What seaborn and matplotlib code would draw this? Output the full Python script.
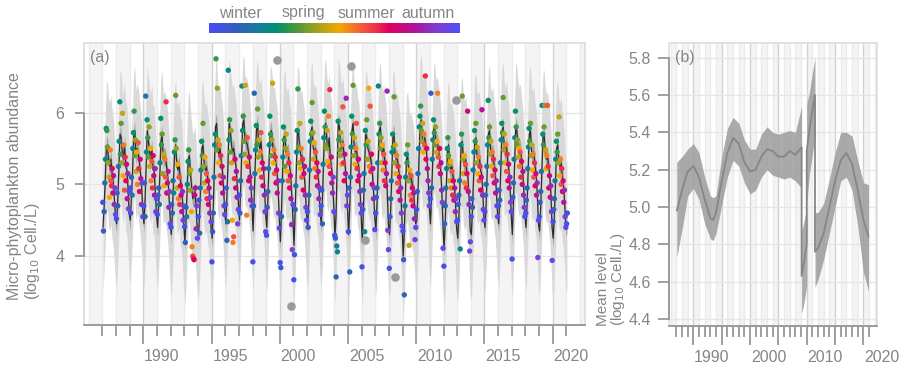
import numpy as np
import pandas as pd
import seaborn as sns
import matplotlib.pyplot as plt
from matplotlib.colors import LinearSegmentedColormap
from matplotlib.patches import Rectangle
from matplotlib.transforms import ScaledTranslation

# ---- data ----
years = list(range(1987, 2022))
# sampling days of year (roughly every 18 days)
sample_days = [10, 28, 46, 64, 82, 100, 118, 136, 154, 172,
               190, 208, 226, 244, 262, 280, 298, 316, 334, 352]

# log10 abundance, one row per year
abundance = [
    [4.75, 4.35, 4.62, 5.02, 5.35, 5.78, 5.75, 5.52, 5.30, 5.10, 4.82, 5.48, 5.05, 4.98, 5.22, 4.88, 5.12, 4.72, 4.95, 4.58],
    [4.52, 4.88, 4.70, 5.25, 5.60, 6.15, 5.42, 5.85, 5.30, 5.99, 5.12, 5.55, 4.92, 5.38, 5.05, 5.28, 4.80, 5.15, 4.66, 4.90],
    [4.95, 4.60, 5.10, 4.85, 5.50, 5.72, 6.02, 5.40, 5.62, 5.18, 5.45, 5.00, 5.58, 5.22, 4.90, 5.35, 5.08, 4.72, 5.02, 4.55],
    [4.70, 5.02, 4.55, 6.23, 5.45, 5.90, 5.65, 5.38, 5.80, 5.25, 5.50, 5.05, 5.32, 4.95, 5.40, 5.12, 4.85, 5.22, 4.62, 4.80],
    [4.58, 4.85, 4.95, 4.72, 5.30, 5.92, 5.55, 5.70, 5.15, 5.42, 4.98, 5.35, 5.10, 6.15, 4.88, 5.02, 5.18, 4.68, 4.90, 4.45],
    [4.40, 4.72, 4.60, 5.05, 4.88, 5.45, 5.62, 6.24, 5.50, 4.95, 5.28, 4.80, 5.10, 4.72, 4.98, 4.85, 4.62, 4.90, 4.50, 4.70],
    [4.41, 4.19, 4.68, 4.55, 5.00, 5.32, 5.48, 5.15, 4.92, 5.20, 4.62, 4.13, 4.00, 3.97, 3.95, 4.85, 4.95, 4.38, 4.70, 4.25],
    [4.55, 4.78, 4.32, 4.95, 5.20, 5.60, 5.40, 5.85, 5.25, 5.02, 5.38, 4.90, 5.15, 4.80, 5.05, 4.72, 4.95, 4.60, 4.82, 4.48],
    [3.92, 4.34, 4.60, 5.10, 5.55, 5.70, 6.75, 5.48, 6.34, 5.62, 5.30, 5.55, 5.12, 5.40, 5.02, 5.25, 4.88, 5.10, 4.70, 4.58],
    [4.72, 4.95, 4.22, 4.48, 6.59, 5.62, 5.90, 5.45, 5.75, 5.30, 4.50, 4.19, 4.27, 5.08, 5.35, 4.95, 5.18, 4.82, 4.45, 4.65],
    [4.85, 4.60, 5.05, 5.40, 6.37, 5.75, 5.95, 5.60, 5.42, 6.38, 5.30, 4.57, 5.65, 5.25, 5.05, 5.38, 5.10, 4.78, 4.95, 4.70],
    [3.92, 4.70, 6.27, 5.15, 5.48, 5.82, 5.55, 6.05, 5.38, 5.62, 5.20, 5.45, 5.72, 5.10, 5.30, 4.98, 5.22, 4.85, 4.62, 4.34],
    [4.29, 4.68, 4.90, 5.22, 5.55, 5.95, 5.70, 5.40, 5.62, 6.41, 5.30, 5.48, 5.15, 5.38, 5.02, 5.20, 4.88, 5.05, 4.60, 4.39],
    [3.91, 3.84, 4.55, 5.05, 5.38, 5.80, 5.62, 5.25, 5.50, 5.70, 5.18, 5.42, 5.05, 5.30, 4.95, 5.12, 4.80, 4.44, 4.09, 4.72],
    [3.67, 4.02, 4.65, 4.98, 5.45, 5.75, 6.33, 5.52, 5.30, 5.85, 5.22, 5.50, 5.10, 5.35, 4.92, 5.15, 5.25, 4.85, 4.68, 4.50],
    [4.62, 4.40, 4.85, 5.20, 5.60, 5.88, 5.70, 6.14, 5.72, 5.35, 5.58, 5.22, 5.45, 5.10, 5.30, 4.98, 5.18, 4.80, 4.95, 4.58],
    [4.70, 4.92, 4.45, 5.28, 5.65, 6.02, 5.80, 5.55, 5.50, 5.75, 5.32, 5.95, 5.25, 6.32, 5.15, 5.38, 5.02, 4.88, 5.10, 4.62],
    [4.29, 4.25, 3.71, 4.14, 4.06, 5.88, 5.62, 5.48, 5.40, 5.72, 5.28, 5.55, 6.08, 5.30, 5.05, 5.42, 5.15, 6.20, 4.70, 4.85],
    [4.34, 4.95, 3.78, 5.10, 5.52, 5.95, 5.70, 6.38, 5.40, 5.65, 5.28, 5.50, 5.85, 5.22, 5.05, 5.35, 5.12, 4.90, 4.72, 4.60],
    [3.85, 4.65, 4.92, 5.15, 4.34, 5.75, 5.55, 5.90, 5.35, 5.60, 6.34, 5.25, 6.09, 5.18, 5.42, 5.00, 5.22, 4.80, 4.95, 4.37],
    [4.60, 4.82, 4.95, 5.30, 6.37, 5.70, 5.85, 5.50, 5.65, 5.30, 5.55, 5.20, 5.42, 5.05, 5.30, 4.98, 5.15, 6.30, 4.36, 4.09],
    [3.83, 4.55, 4.80, 5.05, 5.45, 5.70, 5.52, 6.22, 5.30, 5.55, 5.15, 5.40, 5.02, 5.25, 4.90, 5.10, 4.78, 4.95, 4.60, 4.42],
    [4.35, 3.95, 3.46, 4.70, 5.10, 5.42, 5.30, 5.55, 5.05, 4.15, 5.20, 4.85, 5.12, 4.78, 4.95, 4.70, 4.88, 4.52, 4.23, 4.40],
    [4.65, 4.90, 5.15, 5.50, 5.80, 5.95, 6.09, 5.75, 5.60, 5.85, 5.45, 5.70, 5.55, 6.51, 5.35, 5.50, 5.22, 5.05, 4.88, 4.70],
    [4.80, 6.27, 4.95, 5.35, 5.62, 5.90, 5.72, 5.55, 5.80, 5.45, 5.60, 6.27, 5.38, 5.25, 5.50, 5.15, 5.30, 4.92, 4.75, 4.11],
    [3.86, 4.45, 4.70, 4.95, 5.22, 5.50, 5.65, 5.40, 5.28, 5.05, 5.32, 4.95, 5.18, 4.85, 5.05, 4.78, 4.95, 4.62, 4.80, 4.48],
    [4.50, 4.72, 4.85, 5.05, 4.10, 5.55, 5.70, 6.23, 5.35, 5.15, 5.40, 5.02, 5.28, 4.95, 5.15, 6.02, 4.90, 4.72, 4.07, 4.20],
    [4.55, 4.80, 4.68, 5.20, 5.45, 5.75, 5.60, 5.85, 5.30, 5.52, 5.15, 5.38, 5.05, 5.25, 4.92, 5.10, 6.04, 4.85, 4.65, 4.50],
    [4.62, 4.85, 5.00, 5.25, 5.55, 6.17, 5.65, 5.80, 5.42, 5.60, 5.25, 5.45, 5.12, 5.35, 5.02, 5.20, 4.88, 5.05, 4.70, 4.55],
    [4.70, 4.92, 4.78, 5.30, 5.62, 5.85, 5.72, 6.21, 5.48, 5.70, 5.30, 5.55, 5.18, 5.42, 5.05, 5.28, 4.95, 5.10, 4.75, 4.62],
    [3.96, 4.82, 5.02, 5.35, 5.65, 6.02, 5.80, 5.55, 5.62, 5.38, 5.50, 5.25, 5.45, 5.10, 5.32, 5.00, 5.18, 4.85, 4.68, 4.55],
    [4.60, 4.78, 4.95, 5.22, 5.52, 5.78, 5.60, 5.85, 5.40, 5.55, 5.20, 5.42, 5.10, 5.30, 4.98, 5.15, 4.85, 5.02, 3.98, 4.50],
    [4.55, 4.75, 4.90, 5.18, 6.10, 5.70, 5.55, 5.80, 6.10, 5.48, 5.22, 5.40, 6.10, 5.25, 4.95, 5.12, 4.82, 4.98, 4.62, 3.94],
    [4.48, 4.65, 4.80, 5.05, 5.35, 5.60, 5.45, 5.70, 5.30, 5.94, 5.12, 5.35, 5.00, 5.22, 4.90, 5.05, 4.75, 4.92, 4.55, 4.40],
    [4.45, 4.60],
]

# flagged outliers (grey)
outlier_time = [1999.78, 2000.82, 2005.20, 2006.24, 2008.44, 2012.90]
outlier_value = [6.74, 3.31, 6.65, 4.22, 3.71, 6.17]

# fitted seasonal model, mid-month values per year
fit_days = [15, 46, 74, 105, 135, 166, 196, 227, 258, 288, 319, 349]
fit_rows = [
    [4.40, 4.70, 5.05, 5.50, 5.55, 5.30, 5.25, 5.35, 5.15, 5.05, 4.80, 4.55],
    [4.45, 4.80, 5.20, 5.70, 5.65, 5.45, 5.35, 5.55, 5.25, 5.20, 4.95, 4.60],
    [4.50, 4.85, 5.15, 5.65, 5.75, 5.40, 5.50, 5.45, 5.30, 5.15, 4.95, 4.65],
    [4.45, 4.80, 5.25, 5.75, 5.60, 5.45, 5.35, 5.50, 5.20, 5.20, 4.90, 4.60],
    [4.40, 4.75, 5.10, 5.60, 5.70, 5.35, 5.40, 5.35, 5.25, 5.10, 4.85, 4.55],
    [4.30, 4.60, 5.00, 5.45, 5.55, 5.25, 5.20, 5.30, 5.05, 5.00, 4.75, 4.45],
    [4.20, 4.50, 4.90, 5.35, 5.40, 5.15, 4.95, 4.80, 4.85, 4.90, 4.65, 4.35],
    [4.30, 4.60, 5.00, 5.50, 5.55, 5.30, 5.20, 5.25, 5.10, 5.00, 4.75, 4.40],
    [4.25, 4.70, 5.20, 5.80, 5.85, 5.50, 5.40, 5.50, 5.30, 5.20, 4.95, 4.65],
    [4.45, 4.85, 5.30, 5.85, 5.75, 5.55, 5.45, 5.50, 5.35, 5.25, 5.00, 4.75],
    [4.50, 4.90, 5.40, 5.85, 5.90, 5.60, 5.60, 5.55, 5.45, 5.30, 5.05, 4.70],
    [4.35, 4.85, 5.30, 5.75, 5.85, 5.55, 5.50, 5.60, 5.35, 5.25, 5.00, 4.60],
    [4.40, 4.80, 5.25, 5.70, 5.75, 5.60, 5.45, 5.45, 5.30, 5.20, 4.95, 4.55],
    [4.20, 4.65, 5.15, 5.65, 5.70, 5.45, 5.40, 5.45, 5.25, 5.15, 4.85, 4.55],
    [4.15, 4.65, 5.15, 5.70, 5.75, 5.50, 5.40, 5.40, 5.25, 5.15, 4.90, 4.60],
    [4.40, 4.75, 5.25, 5.75, 5.80, 5.50, 5.45, 5.50, 5.30, 5.20, 4.95, 4.60],
    [4.45, 4.80, 5.30, 5.80, 5.85, 5.60, 5.50, 5.65, 5.35, 5.25, 5.00, 4.70],
    [4.25, 4.60, 5.25, 5.85, 5.80, 5.55, 5.50, 5.60, 5.40, 5.25, 5.05, 4.70],
    [4.30, 4.70, 5.20, 5.75, 5.85, 5.50, 5.45, 5.50, 5.30, 5.25, 4.95, 4.60],
    [4.20, 4.65, 5.10, 5.70, 5.65, 5.50, 5.45, 5.40, 5.30, 5.15, 4.90, 4.55],
    [4.35, 4.75, 5.25, 5.75, 5.80, 5.50, 5.40, 5.50, 5.30, 5.20, 4.90, 4.45],
    [4.30, 4.65, 5.10, 5.65, 5.70, 5.40, 5.35, 5.35, 5.20, 5.10, 4.85, 4.50],
    [4.00, 4.35, 4.85, 5.35, 5.40, 5.20, 5.05, 5.10, 5.00, 4.95, 4.70, 4.45],
    [4.50, 4.90, 5.35, 5.85, 5.90, 5.60, 5.55, 5.65, 5.55, 5.35, 5.05, 4.70],
    [4.45, 4.85, 5.30, 5.80, 5.75, 5.55, 5.60, 5.50, 5.35, 5.20, 4.90, 4.45],
    [4.10, 4.50, 4.95, 5.45, 5.55, 5.25, 5.20, 5.25, 5.10, 5.00, 4.75, 4.40],
    [4.25, 4.55, 5.00, 5.55, 5.60, 5.35, 5.25, 5.35, 5.15, 5.10, 4.80, 4.35],
    [4.30, 4.70, 5.10, 5.60, 5.65, 5.40, 5.35, 5.40, 5.20, 5.15, 4.90, 4.55],
    [4.40, 4.75, 5.20, 5.70, 5.75, 5.45, 5.40, 5.45, 5.25, 5.15, 4.90, 4.60],
    [4.45, 4.80, 5.25, 5.75, 5.80, 5.50, 5.45, 5.55, 5.30, 5.20, 4.95, 4.60],
    [4.30, 4.75, 5.25, 5.80, 5.75, 5.55, 5.45, 5.50, 5.35, 5.20, 4.95, 4.60],
    [4.40, 4.75, 5.20, 5.70, 5.75, 5.45, 5.40, 5.45, 5.25, 5.15, 4.85, 4.45],
    [4.35, 4.70, 5.15, 5.65, 5.70, 5.45, 5.35, 5.40, 5.25, 5.10, 4.85, 4.40],
    [4.25, 4.60, 5.00, 5.50, 5.55, 5.30, 5.25, 5.30, 5.10, 5.00, 4.75, 4.40],
    [4.45],
]
ci_half = 0.13   # confidence band half width
pi_half = 0.90   # prediction band half width

# panel (b): mean level with three pieces (level shifts)
b_year = [1987.07, 1988, 1989, 1990, 1991, 1992, 1993, 1993.5, 1994, 1995, 1996, 1997,
          1998, 1999, 2000, 2001, 2002, 2003, 2004, 2005, 2006, 2007, 2008, 2009.1,
          2009.1, 2009.5, 2010.0, 2010.0, 2010.5, 2011.0, 2011.46,
          2011.46, 2012, 2013, 2014, 2015, 2016, 2017, 2018, 2019, 2020, 2020.9]
b_mean = [4.98, 5.09, 5.19, 5.22, 5.16, 5.04, 4.94, 4.93, 4.97, 5.14, 5.29, 5.37,
          5.34, 5.24, 5.19, 5.20, 5.27, 5.31, 5.30, 5.27, 5.27, 5.30, 5.28, 5.32,
          4.63, 4.70, 4.80, 5.30, 5.42, 5.52, 5.60,
          4.76, 4.78, 4.86, 5.00, 5.14, 5.25, 5.29, 5.23, 5.09, 4.93, 4.84]
b_upper = [5.24, 5.27, 5.31, 5.34, 5.29, 5.16, 5.06, 5.05, 5.06, 5.27, 5.42, 5.48,
           5.45, 5.36, 5.31, 5.31, 5.39, 5.43, 5.40, 5.39, 5.40, 5.41, 5.40, 5.54,
           4.87, 4.92, 5.00, 5.55, 5.62, 5.72, 5.80,
           4.97, 4.97, 5.02, 5.15, 5.29, 5.40, 5.40, 5.38, 5.25, 5.13, 5.12]
b_lower = [4.73, 4.88, 5.06, 5.10, 5.04, 4.91, 4.83, 4.82, 4.86, 5.01, 5.16, 5.25,
           5.22, 5.13, 5.07, 5.09, 5.16, 5.20, 5.17, 5.16, 5.15, 5.16, 5.14, 5.10,
           4.43, 4.48, 4.58, 5.02, 5.18, 5.28, 5.38,
           4.57, 4.61, 4.72, 4.86, 5.00, 5.14, 5.16, 5.09, 4.90, 4.65, 4.55]
b_piece = [0] * 24 + [1] * 7 + [2] * 11

season_labels = ["winter", "spring", "summer", "autumn"]

# ---- tables ----
obs = pd.DataFrame([(y + d / 365.25, v, d / 365.25)
                    for y, row in zip(years, abundance)
                    for d, v in zip(sample_days, row)],
                   columns=["time", "value", "season"])
fit = pd.DataFrame([(y + d / 365.25, v)
                    for y, row in zip(years, fit_rows)
                    for d, v in zip(fit_days, row)],
                   columns=["time", "value"])
level = pd.DataFrame({"year": b_year, "mean": b_mean, "lower": b_lower,
                      "upper": b_upper, "piece": b_piece})

# ---- style ----
sns.set_theme(style="white")
plt.rcParams["font.family"] = ["Liberation Sans", "DejaVu Sans"]
grey_txt = "#858585"
axis_col = "#8f8f8f"

season_cmap = LinearSegmentedColormap.from_list("season", [
    (0.00, "#4b4bf5"), (0.12, "#2e62b5"), (0.20, "#127f98"), (0.27, "#00906f"),
    (0.34, "#45983c"), (0.42, "#98a022"), (0.52, "#f5a800"), (0.60, "#f26238"),
    (0.66, "#ee3448"), (0.72, "#e0005e"), (0.82, "#b0149a"), (0.92, "#7a40d8"),
    (1.00, "#4f4ff5")])

fig = plt.figure(figsize=(9.06, 3.69), dpi=100)
W, H = 906, 369
ax = fig.add_axes([84 / W, 1 - 325 / H, 501 / W, 282 / H])
axb = fig.add_axes([669 / W, 1 - 326 / H, 208 / W, 283 / H])


def decorate(a, xlim, ylim, hgrid):
    a.set_xlim(*xlim)
    a.set_ylim(*ylim)
    for yr in range(1986, 2023, 2):
        a.axvspan(yr, yr + 1, color="#f5f3f5", lw=0, zorder=0)
    for yr in range(1986, 2023):
        a.axvline(yr, color="#d2d2d2" if yr % 5 == 0 else "#ebebeb", lw=1.0, zorder=0.5)
    for h in hgrid:
        a.axhline(h, color="#e6e6e6", lw=1.0, zorder=0.5)
    for s in a.spines.values():
        s.set_visible(False)
    a.add_patch(Rectangle((0, 0), 1, 1, transform=a.transAxes, fill=False,
                          ec="#dcdcdc", lw=1.2, zorder=6, clip_on=False))
    a.spines["left"].set_visible(True)
    a.spines["bottom"].set_visible(True)
    for k in ("left", "bottom"):
        a.spines[k].set_color(axis_col)
        a.spines[k].set_linewidth(1.2)
        a.spines[k].set_zorder(7)
    a.spines["left"].set_bounds(hgrid[0], hgrid[-1])
    a.set_xticks(list(range(1990, 2021, 5)))
    a.set_xticks(list(range(1987, 2022)), minor=True)
    a.tick_params(axis="x", which="major", length=14, width=1.2, color=axis_col,
                  labelcolor=grey_txt, labelsize=11.5, pad=3, bottom=True)
    a.tick_params(axis="x", which="minor", length=8, width=1.2, color=axis_col, bottom=True)
    a.set_xlabel("")
    a.set_ylabel("")


# ---- panel (a) ----
decorate(ax, (1985.65, 2022.37), (3.04, 6.97), [4, 5, 6])
ax.fill_between(fit["time"], fit["value"] - pi_half, fit["value"] + pi_half,
                color="#d9d9d9", lw=0, zorder=1)
ax.fill_between(fit["time"], fit["value"] - ci_half, fit["value"] + ci_half,
                color="#7a7a7a", alpha=0.55, lw=0, zorder=2)
sns.lineplot(data=fit, x="time", y="value", sort=False, estimator=None,
             color="#2d2d2d", lw=0.9, ax=ax, zorder=3)
sns.scatterplot(data=obs, x="time", y="value", hue="season", palette=season_cmap,
                hue_norm=(0, 1), s=15, linewidth=0, legend=False, ax=ax, zorder=4)
sns.scatterplot(x=outlier_time, y=outlier_value, color="#9a9a9a", s=38,
                linewidth=0, ax=ax, zorder=5)
ax.set_yticks([4, 5, 6])
ax.set_yticklabels(["4", "5", "6"])
ax.tick_params(axis="y", length=6.5, width=1.2, color=axis_col, labelcolor=grey_txt,
               labelsize=11.5, pad=7.5, left=True)
ax.set_xticklabels([str(v) for v in range(1990, 2021, 5)])
ax.set_xlabel("")
ax.set_ylabel("")
ax.text(0.012, 0.947, "(a)", transform=ax.transAxes, color=grey_txt, fontsize=11.5,
        va="center", ha="left", zorder=8)

# ---- panel (b) ----
decorate(axb, (1985.7, 2022.4), (4.362, 5.879), [4.4, 4.6, 4.8, 5.0, 5.2, 5.4, 5.6, 5.8])
for _, part in level.groupby("piece"):
    axb.fill_between(part["year"], part["lower"], part["upper"],
                     color="#9c9c9c", alpha=0.85, lw=0, zorder=2)
sns.lineplot(data=level, x="year", y="mean", sort=False, estimator=None,
             color="#868686", lw=1.3, ax=axb, zorder=3)
axb.set_yticks([4.4, 4.6, 4.8, 5.0, 5.2, 5.4, 5.6, 5.8])
axb.set_yticklabels(["4.4", "4.6", "4.8", "5.0", "5.2", "5.4", "5.6", "5.8"])
axb.tick_params(axis="y", length=8, width=1.2, color=axis_col, labelcolor=grey_txt,
                labelsize=11.5, pad=5, left=True)
axb.set_xticklabels(["1990", "", "2000", "", "2010", "", "2020"])
axb.set_xlabel("")
axb.set_ylabel("")
axb.text(0.03, 0.947, "(b)", transform=axb.transAxes, color=grey_txt, fontsize=11.5,
         va="center", ha="left", zorder=8)

# tick labels sit to the right of their ticks
shift = ScaledTranslation(18.5 / 100, 0, fig.dpi_scale_trans)
for a in (ax, axb):
    for t in a.xaxis.get_major_ticks():
        t.label1.set_transform(t.label1.get_transform() + shift)

# ---- y labels ----
def px(x, y):
    return x / W, 1 - y / H


for (x0, y0, fs), txt in [((15, 300, 11.5), "Micro-phytoplankton abundance"),
                          ((33, 300, 11.5), "(log$_{10}$ Cell./L)"),
                          ((603, 326, 11), "Mean level"),
                          ((618, 326, 11), "(log$_{10}$ Cell./L)")]:
    fig.text(*px(x0, y0), txt, rotation=90, rotation_mode="anchor", ha="left",
             va="center", color=grey_txt, fontsize=fs)

# ---- season colour bar ----
cax = fig.add_axes([209 / W, 1 - 33 / H, 250 / W, 10 / H])
cax.imshow(np.linspace(0, 1, 256)[None, :], aspect="auto", cmap=season_cmap)
cax.axis("off")
for xc, lab in zip([240, 303, 366, 428], season_labels):
    fig.text(*px(xc, 13), lab, ha="center", va="center", color=grey_txt, fontsize=11.5)

fig.savefig("out.png", dpi=100)
